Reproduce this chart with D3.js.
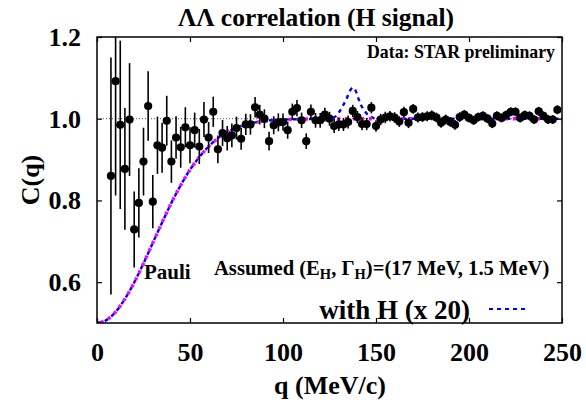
<!DOCTYPE html>
<html><head><meta charset="utf-8">
<script src="https://cdn.jsdelivr.net/npm/d3@7"></script>
<style>
html,body{margin:0;padding:0;background:#fff;}
text{font-family:"Liberation Serif","Times New Roman",serif;font-weight:bold;}
</style></head>
<body><svg id="c" width="586" height="403"></svg>
<script>
// ---- data ----
const qValues = [7.5,10,12.5,15,17.5,20,22.5,25,27.5,30,32.5,35,37.5,40,42.5,45,47.5,50,52.5,55,57.5,60,62.5,65,67.5,70,72.5,75,77.5,80,82.5,85,87.5,90,92.5,95,97.5,100,102.5,105,107.5,110,112.5,115,117.5,120,122.5,125,127.5,130,132.5,135,137.5,140,142.5,145,147.5,150,152.5,155,157.5,160,162.5,165,167.5,170,172.5,175,177.5,180,182.5,185,187.5,190,192.5,195,197.5,200,202.5,205,207.5,210,212.5,215,217.5,220,222.5,225,227.5,230,232.5,235,237.5,240,242.5,245,247.5];
const cValues = [0.860,1.092,0.985,0.877,0.998,0.729,0.794,0.895,1.031,0.797,0.935,0.929,0.995,0.895,0.954,0.930,0.979,0.935,0.972,0.932,0.998,0.954,1.017,0.925,0.965,0.952,0.959,0.977,0.951,0.986,0.986,1.028,1.010,1.000,0.945,0.984,0.991,0.992,0.972,1.017,1.026,0.996,0.945,1.017,0.996,0.996,1.010,1.000,0.982,0.986,0.986,0.992,1.019,1.004,0.987,0.987,1.027,0.982,0.998,1.003,1.006,1.003,0.993,1.016,0.990,1.024,1.003,1.004,1.006,1.008,1.003,0.990,0.998,0.992,0.985,1.004,1.010,1.002,0.996,1.004,1.007,1.000,0.988,1.007,1.002,1.009,1.017,1.017,1.002,1.009,1.007,0.998,1.018,1.007,0.998,0.998,1.022];
const cErrors = [0.290,0.280,0.206,0.149,0.138,0.093,0.085,0.083,0.085,0.065,0.070,0.061,0.061,0.052,0.052,0.050,0.049,0.044,0.043,0.043,0.043,0.038,0.037,0.034,0.032,0.030,0.029,0.028,0.027,0.026,0.025,0.025,0.024,0.023,0.023,0.022,0.022,0.021,0.021,0.020,0.020,0.019,0.019,0.018,0.018,0.018,0.017,0.017,0.017,0.016,0.016,0.016,0.015,0.015,0.015,0.015,0.014,0.014,0.014,0.014,0.013,0.013,0.013,0.013,0.013,0.012,0.012,0.012,0.012,0.012,0.012,0.012,0.012,0.012,0.012,0.012,0.011,0.011,0.011,0.011,0.011,0.011,0.011,0.011,0.011,0.011,0.011,0.011,0.011,0.011,0.011,0.011,0.011,0.011,0.011,0.011,0.011];

const pauliQ = [0,5,10,15,20,25,30,35,40,45,50,55,60,65,70,75,80,85,90,95,100,110,120,130,140,150,175,200,225,250];
const pauliC = [0.500,0.507,0.527,0.559,0.599,0.646,0.696,0.746,0.794,0.837,0.875,0.906,0.932,0.952,0.967,0.978,0.986,0.991,0.994,0.997,0.998,0.999,1.000,1.000,1.000,1.000,1.000,1.000,1.000,1.000];

const withHQ = [0,5,10,15,20,25,30,35,40,45,50,55,60,65,70,75,80,85,90,95,100,110,120,125,128,130,132,134,136,137.5,139,140.5,142,144,146,148,150,175,200,225,250];
const withHC = [0.500,0.507,0.527,0.559,0.599,0.646,0.696,0.746,0.794,0.837,0.875,0.906,0.932,0.952,0.967,0.978,0.986,0.991,0.994,0.997,0.998,0.999,1.000,1.001,1.005,1.015,1.030,1.047,1.068,1.076,1.069,1.050,1.033,1.018,1.008,1.003,1.000,1.000,1.000,1.000,1.000];

const xTicks = [0,50,100,150,200,250];
const yTicks = [0.6,0.8,1.0,1.2];

// ---- chart ----
const svg = d3.select("#c");
const x = d3.scaleLinear().domain([0,250]).range([97,562]);
const y = d3.scaleLinear().domain([0.5,1.2]).range([323,37]);

svg.append("defs").append("clipPath").attr("id","clip")
  .append("rect").attr("x",97).attr("y",37).attr("width",465).attr("height",286);

// reference line at 1.0
svg.append("line").attr("x1",x(0)).attr("x2",x(250)).attr("y1",y(1)).attr("y2",y(1))
  .attr("stroke","#555").attr("stroke-width",1).attr("stroke-dasharray","1,2");

const plot = svg.append("g").attr("clip-path","url(#clip)");

const line = d3.line().x(d=>x(d[0])).y(d=>y(d[1])).curve(d3.curveMonotoneX);
plot.append("path").datum(withHQ.map((q,i)=>[q,withHC[i]]))
  .attr("d",line).attr("fill","none").attr("stroke","#0000ff")
  .attr("stroke-width",2.4).attr("stroke-dasharray","4,4");
plot.append("path").datum(pauliQ.map((q,i)=>[q,pauliC[i]]))
  .attr("d",line).attr("fill","none").attr("stroke","#ff00ff")
  .attr("stroke-width",3.4).attr("stroke-dasharray","3,5").attr("stroke-dashoffset",4);

const pts = qValues.map((q,i)=>({q, c:cValues[i], e:cErrors[i]}));
plot.selectAll("line.err").data(pts).enter().append("line").attr("class","err")
  .attr("x1",d=>x(d.q)).attr("x2",d=>x(d.q))
  .attr("y1",d=>y(d.c-d.e)).attr("y2",d=>y(d.c+d.e))
  .attr("stroke","#000").attr("stroke-width",1.6);
plot.selectAll("circle").data(pts).enter().append("circle")
  .attr("cx",d=>x(d.q)).attr("cy",d=>y(d.c)).attr("r",4.1).attr("fill","#000");

// axes
const fmtY = d3.format(".1f");
const ax = svg.append("g").attr("transform",`translate(0,${y(0.5)})`)
  .call(d3.axisBottom(x).tickValues(xTicks).tickSizeInner(-5).tickSizeOuter(0).tickPadding(20));
const axT = svg.append("g").attr("transform",`translate(0,${y(1.2)})`)
  .call(d3.axisTop(x).tickValues(xTicks).tickSizeInner(-5).tickSizeOuter(0).tickFormat(""));
const ay = svg.append("g").attr("transform",`translate(${x(0)},0)`)
  .call(d3.axisLeft(y).tickValues(yTicks).tickSizeInner(-5).tickSizeOuter(0).tickPadding(16).tickFormat(fmtY));
const ayR = svg.append("g").attr("transform",`translate(${x(250)},0)`)
  .call(d3.axisRight(y).tickValues(yTicks).tickSizeInner(-5).tickSizeOuter(0).tickFormat(""));
[ax,axT,ay,ayR].forEach(g=>{
  g.select(".domain").remove();
  g.selectAll(".tick line").attr("stroke","#000").attr("stroke-width",1.2);
  g.selectAll("text").attr("font-family","Liberation Serif").attr("font-weight","bold")
   .attr("font-size",26).attr("fill","#000");
});

svg.append("rect").attr("x",97).attr("y",37).attr("width",465).attr("height",286)
  .attr("fill","none").attr("stroke","#000").attr("stroke-width",1.5);

// texts
svg.append("text").attr("x",316).attr("y",26).attr("text-anchor","middle")
  .attr("font-size",25.5).text("ΛΛ correlation (H signal)");
svg.append("text").attr("x",330).attr("y",394).attr("text-anchor","middle")
  .attr("font-size",26).text("q (MeV/c)");
svg.append("text").attr("transform","translate(39,180) rotate(-90)").attr("text-anchor","middle")
  .attr("font-size",26).text("C(q)");
svg.append("text").attr("x",555).attr("y",58).attr("text-anchor","end")
  .attr("font-size",17.8).text("Data: STAR preliminary");
svg.append("text").attr("x",144).attr("y",279).attr("font-size",21).text("Pauli");

const as = svg.append("text").attr("x",214).attr("y",275).attr("font-size",20.6);
as.append("tspan").text("Assumed (E");
as.append("tspan").attr("font-size",14.5).attr("dy",4).text("H");
as.append("tspan").attr("dy",-4).text(", Γ");
as.append("tspan").attr("font-size",14.5).attr("dy",4).text("H");
as.append("tspan").attr("dy",-4).text(")=(17 MeV, 1.5 MeV)");

svg.append("text").attr("x",470).attr("y",319).attr("text-anchor","end")
  .attr("font-size",27).text("with H (x 20)");
svg.append("line").attr("x1",489).attr("x2",528).attr("y1",309).attr("y2",309)
  .attr("stroke","#0000ff").attr("stroke-width",2.2).attr("stroke-dasharray","4,4");
</script></body></html>
